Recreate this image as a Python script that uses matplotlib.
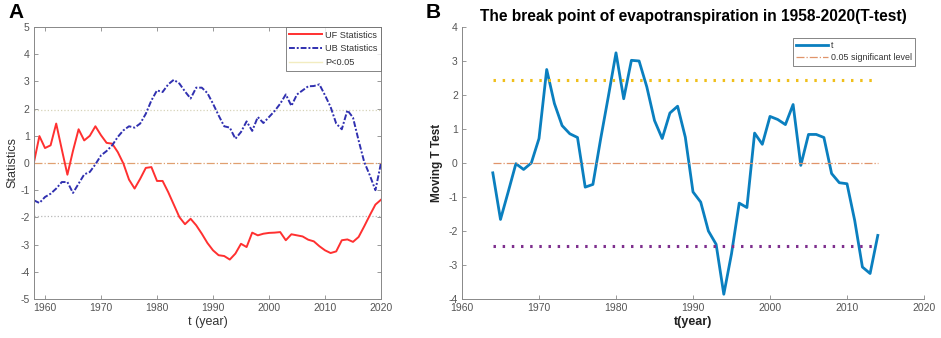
import matplotlib
matplotlib.use("Agg")
import matplotlib.pyplot as plt
import numpy as np

plt.rcParams['font.family'] = ['Liberation Sans', 'DejaVu Sans']
plt.rcParams['axes.unicode_minus'] = False

# ---------------- Data: panel A (Mann-Kendall) ----------------
years_a = list(range(1958, 2021))
uf = [0.0, 0.99, 0.55, 0.65, 1.45, 0.5, -0.43, 0.45, 1.24, 0.83,
      1.0, 1.35, 1.02, 0.74, 0.71, 0.4, -0.02, -0.61, -0.94, -0.58,
      -0.18, -0.15, -0.66, -0.66, -1.07, -1.53, -1.99, -2.25, -2.05, -2.29,
      -2.6, -2.94, -3.21, -3.39, -3.42, -3.55, -3.33, -2.97, -3.09, -2.56,
      -2.66, -2.6, -2.57, -2.56, -2.54, -2.84, -2.62, -2.66, -2.7, -2.82,
      -2.88, -3.06, -3.21, -3.31, -3.25, -2.84, -2.81, -2.9, -2.72, -2.33,
      -1.92, -1.53, -1.35]
ub = [-1.37, -1.47, -1.25, -1.13, -0.94, -0.7, -0.7, -1.1, -0.76, -0.42,
      -0.33, -0.05, 0.28, 0.44, 0.65, 0.96, 1.2, 1.35, 1.3, 1.45,
      1.81, 2.3, 2.67, 2.61, 2.89, 3.06, 2.92, 2.63, 2.37, 2.77,
      2.77, 2.57, 2.18, 1.75, 1.35, 1.3, 0.89, 1.14, 1.53, 1.18,
      1.69, 1.47, 1.69, 1.91, 2.18, 2.52, 2.1, 2.52, 2.67, 2.82,
      2.83, 2.89, 2.49, 2.06, 1.45, 1.24, 1.94, 1.67, 0.83, 0.04,
      -0.45, -1.0, 0.0]
sig_a = 1.96

# ---------------- Data: panel B (moving t-test) ----------------
years_b = list(range(1964, 2015))
t_vals = [-0.29, -1.66, -0.85, -0.02, -0.19, 0.0, 0.72, 2.75, 1.75, 1.1,
          0.86, 0.75, -0.71, -0.63, 0.7, 1.95, 3.24, 1.89, 3.02, 3.0,
          2.24, 1.25, 0.72, 1.47, 1.67, 0.76, -0.85, -1.15, -2.0, -2.39,
          -3.86, -2.67, -1.18, -1.31, 0.88, 0.55, 1.37, 1.28, 1.13, 1.72,
          -0.07, 0.84, 0.84, 0.75, -0.31, -0.58, -0.61, -1.69, -3.06, -3.25,
          -2.13]
sig_b = 2.45

W, H = 941, 338
fig = plt.figure(figsize=(W / 100, H / 100), dpi=100)

gray = '#555555'
tick_fs = 7.5

# ---------------- Panel A ----------------
axA = fig.add_axes([33.8 / W, 1 - 299 / H, (381 - 33.8) / W, 272 / H])
axA.plot(years_a, [sig_a] * len(years_a), linestyle=':', color='#d6d3b8', lw=0.9)
axA.plot(years_a, [-sig_a] * len(years_a), linestyle=':', color='#b8b8b8', lw=0.9)
axA.plot(years_a, [0] * len(years_a), linestyle='-.', color='#e0a070', lw=0.9)
lUF, = axA.plot(years_a, uf, color='#ff3030', lw=1.4, label='UF Statistics')
lUB, = axA.plot(years_a, ub, color='#3030b0', lw=1.4, linestyle=(0, (3, 1, 1, 1)),
                label='UB Statistics')
lP, = axA.plot([], [], linestyle='-', color='#f2ecc0', lw=1.0, label='P<0.05')
axA.set_xlim(1958, 2020)
axA.set_ylim(-5, 5)
axA.set_xticks(range(1960, 2021, 10))
axA.set_yticks(range(-5, 6))
axA.tick_params(direction='in', top=True, right=True, length=3, width=0.6,
                colors='#888888', labelcolor=gray, labelsize=tick_fs, pad=3)
for s in axA.spines.values():
    s.set_color('#888888')
    s.set_linewidth(0.7)
axA.set_xlabel('t (year)', fontsize=9, color='#333333', labelpad=2)
axA.set_ylabel('Statistics', fontsize=9, color='#333333', labelpad=1)
legA = axA.legend(handles=[lUF, lUB, lP], loc='upper right', fontsize=6.6,
                  frameon=True, fancybox=False, edgecolor='#666666',
                  borderaxespad=0.0, handlelength=3.6, handletextpad=0.3,
                  labelspacing=0.5, borderpad=0.4)
legA.get_frame().set_linewidth(0.7)
for txt in legA.get_texts():
    txt.set_color('#333333')

fig.text(8 / W, 1 - 13 / H, 'A', fontsize=15, fontweight='bold', va='center')

# ---------------- Panel B ----------------
axB = fig.add_axes([462 / W, 1 - 299 / H, 462 / W, 272 / H])
lt, = axB.plot(years_b, t_vals, color='#0a7fbf', lw=2.0, label='t')
lsig, = axB.plot(years_b, [0] * len(years_b), linestyle='-.', color='#e0946a', lw=0.9,
                 label='0.05 significant level')
axB.plot(years_b, [sig_b] * len(years_b), linestyle=(0, (0.8, 2.2)), color='#f0bf1a',
         lw=2.2)
axB.plot(years_b, [-sig_b] * len(years_b), linestyle=(0, (0.8, 2.2)), color='#7e2f8e',
         lw=2.2)
axB.set_xlim(1960, 2020)
axB.set_ylim(-4, 4)
axB.set_xticks(range(1960, 2021, 10))
axB.set_yticks(range(-4, 5))
axB.spines['top'].set_visible(False)
axB.spines['right'].set_visible(False)
for s in ('left', 'bottom'):
    axB.spines[s].set_color('#888888')
    axB.spines[s].set_linewidth(0.7)
axB.tick_params(direction='in', length=3, width=0.6, colors='#888888',
                labelcolor=gray, labelsize=tick_fs, pad=3)
axB.set_xlabel('t(year)', fontsize=9, fontweight='bold', color='#222222', labelpad=2)
axB.set_ylabel('Moving T Test', fontsize=8.5, fontweight='bold', color='#222222',
               labelpad=4)
axB.set_title('The break point of evapotranspiration in 1958-2020(T-test)',
              fontsize=11.2, fontweight='bold', pad=4)
legB = axB.legend(handles=[lt, lsig], loc='upper right', fontsize=6.4,
                  bbox_to_anchor=(0.99, 0.975), frameon=True, fancybox=False,
                  edgecolor='#666666', handlelength=3.6, handletextpad=0.3,
                  labelspacing=0.35, borderpad=0.35)
legB.get_frame().set_linewidth(0.7)
for txt in legB.get_texts():
    txt.set_color('#333333')

fig.text(426 / W, 1 - 13 / H, 'B', fontsize=15, fontweight='bold', va='center')

fig.savefig('out.png', dpi=100)
